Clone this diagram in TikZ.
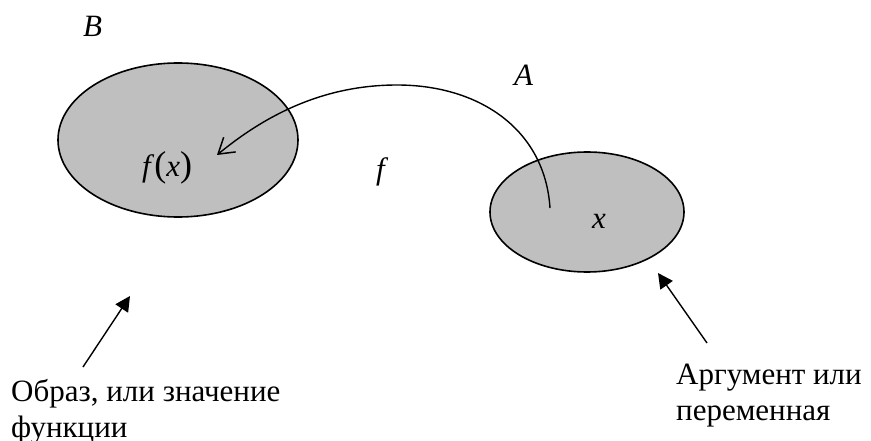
\documentclass[tikz,border=0pt]{standalone}
\usepackage{fontspec}
\setmainfont{Liberation Serif}
\usetikzlibrary{arrows.meta}
\newcommand{\capfont}{\fontsize{31}{36}\selectfont}
\newcommand{\varfont}{\fontsize{31}{36}\selectfont\itshape}
\newcommand{\parfont}{\fontsize{36}{36}\selectfont\upshape}
\begin{document}
\begin{tikzpicture}[x=1pt,y=-1pt,
  setshape/.style={draw=black, line width=1.6pt, fill=black!25},
  var/.style={font=\varfont, inner sep=0pt, anchor=base west},
  caption/.style={font=\capfont, inner sep=0pt, align=left, anchor=north west},
  pointer/.style={line width=1.4pt, -{Triangle[length=15pt,width=15pt]}},
  mapping/.style={line width=1.4pt, -{Straight Barb[length=15pt,width=19pt,line width=1.5pt]}}]
  \useasboundingbox (0,0) rectangle (871,441);

  % the two sets
  \draw[setshape] (178,140) ellipse [x radius=120, y radius=77];
  \draw[setshape] (587,212) ellipse [x radius=97, y radius=60];

  % set names, function name and elements
  \node[var] (B) at (83,37) {B};
  \node[var] (A) at (514,86) {A};
  \node[var] (f) at (376,180) {f};
  \node[var] (fx) at (142,177) {f\/{\parfont(}x{\parfont)}};
  \node[var] (x) at (592,229) {x};

  % mapping arc from x to f(x)
  \coordinate (start) at (550,208);
  \coordinate (peak) at (397,85);
  \coordinate (end) at (217,155);
  \draw[mapping] (start) .. controls (545,130) and (480,85) .. (peak)
                         .. controls (320,85) and (262,118) .. (end);

  % captions
  \node[caption] (capL) at (11,379) {Образ, или значение\\функции};
  \node[caption] (capR) at (676,364) {Аргумент или\\переменная};

  \coordinate (pL) at (83,367);
  \coordinate (tL) at (130,296);
  \coordinate (pR) at (707,343);
  \coordinate (tR) at (658,273);
  \draw[pointer] (pL) -- (tL);
  \draw[pointer] (pR) -- (tR);
\end{tikzpicture}
\end{document}
